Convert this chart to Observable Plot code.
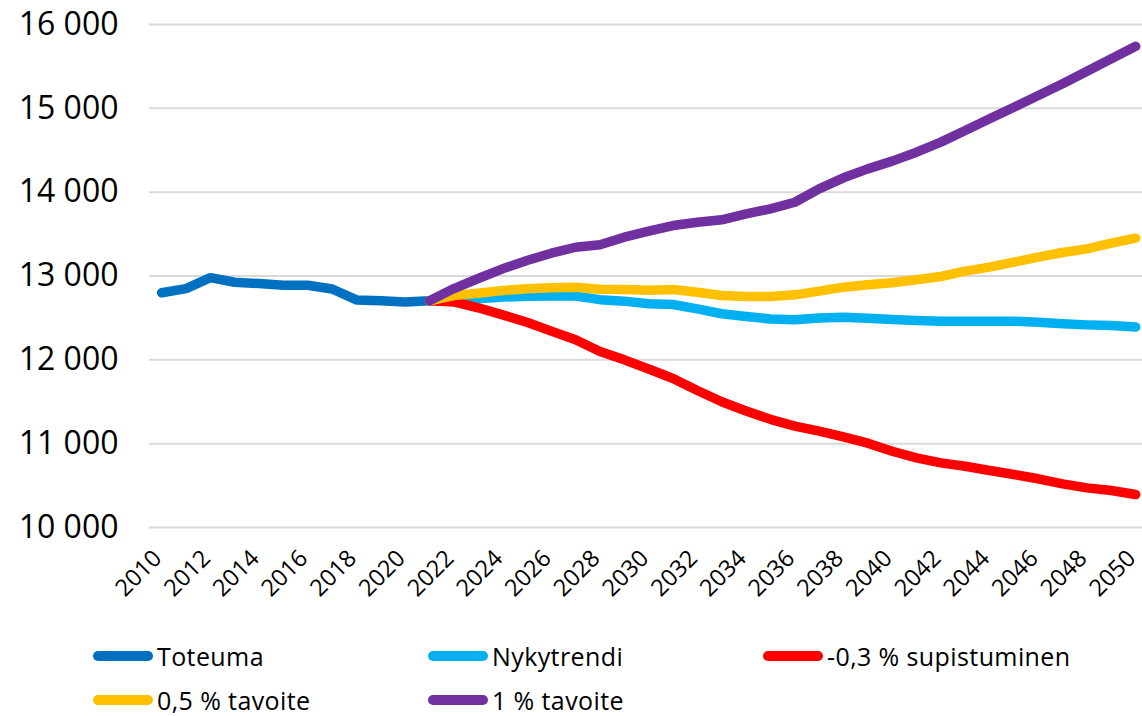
<!DOCTYPE html>
<html>
<head>
<meta charset="utf-8">
<script src="https://cdn.jsdelivr.net/npm/d3@7"></script>
<script src="https://cdn.jsdelivr.net/npm/@observablehq/plot@0.6"></script>
<style>
  html, body { margin: 0; padding: 0; background: #fff; }
  #wrap { position: relative; width: 1142px; height: 716px; font-family: "Open Sans", sans-serif; color: #000; }
  #legend { position: absolute; left: 0; top: 620px; width: 1142px; height: 96px; }
  .item { position: absolute; display: flex; align-items: center; font-size: 25px; line-height: 1.2; transform: translateY(-50%); white-space: nowrap; letter-spacing: 0.4px; }
  .sw { display: inline-block; width: 60px; height: 10px; border-radius: 5px; margin-right: 4px; }
</style>
</head>
<body>
<div id="wrap">
  <div id="chart"></div>
  <div id="legend"></div>
</div>
<script>
// ---- Data ----
const seriesNames = ["Toteuma", "Nykytrendi", "-0,3 % supistuminen", "0,5 % tavoite", "1 % tavoite"];
const seriesColors = ["#0070C0", "#00B0F0", "#FF0000", "#FFC000", "#7030A0"];

const yearsActual = [2010, 2011, 2012, 2013, 2014, 2015, 2016, 2017, 2018, 2019, 2020, 2021];
const toteuma = [12800, 12850, 12980, 12925, 12910, 12890, 12890, 12845, 12715, 12705, 12690, 12705];

const yearsProj = [2021, 2022, 2023, 2024, 2025, 2026, 2027, 2028, 2029, 2030,
                   2031, 2032, 2033, 2034, 2035, 2036, 2037, 2038, 2039, 2040,
                   2041, 2042, 2043, 2044, 2045, 2046, 2047, 2048, 2049, 2050];
const nykytrendi = [12705, 12715, 12730, 12748, 12758, 12760, 12760, 12718, 12700, 12670,
                    12660, 12608, 12550, 12517, 12487, 12477, 12500, 12508, 12497, 12481,
                    12469, 12461, 12461, 12461, 12460, 12449, 12430, 12417, 12409, 12393];
const supistuminen = [12705, 12690, 12621, 12537, 12449, 12342, 12239, 12100, 12000, 11890,
                      11777, 11634, 11500, 11390, 11290, 11210, 11150, 11080, 11006, 10910,
                      10831, 10771, 10731, 10680, 10632, 10581, 10521, 10473, 10441, 10393];
const tavoite05 = [12705, 12767, 12795, 12827, 12847, 12859, 12867, 12843, 12839, 12831,
                   12839, 12807, 12767, 12755, 12755, 12775, 12819, 12867, 12895, 12919,
                   12955, 12994, 13058, 13106, 13165, 13225, 13280, 13324, 13391, 13451];
const tavoite1 = [12705, 12850, 12970, 13086, 13185, 13272, 13343, 13372, 13463, 13535,
                  13602, 13642, 13670, 13742, 13800, 13880, 14040, 14171, 14278, 14370,
                  14477, 14597, 14736, 14875, 15014, 15153, 15293, 15443, 15591, 15741];

const xTicks = d3.range(2010, 2051, 2);
const yTicks = [10000, 11000, 12000, 13000, 14000, 15000, 16000];

// ---- Build table ----
const rows = [];
yearsActual.forEach((y, i) => rows.push({year: y, value: toteuma[i], series: seriesNames[0]}));
[nykytrendi, supistuminen, tavoite05, tavoite1].forEach((arr, k) => {
  yearsProj.forEach((y, i) => rows.push({year: y, value: arr[i], series: seriesNames[k + 1]}));
});

const fmt = d => d3.format(",")(d).replace(/,/g, "\u00a0");

const chart = Plot.plot({
  width: 1142,
  height: 620,
  marginLeft: 149,
  marginRight: 0,
  marginTop: 24,
  marginBottom: 93,
  style: { fontFamily: "Open Sans, sans-serif", color: "#000", background: "#fff", overflow: "visible" },
  x: { type: "linear", domain: [2009.5, 2050.28], label: null },
  y: { domain: [10000, 16000], label: null },
  color: { domain: seriesNames, range: seriesColors },
  marks: [
    Plot.gridY(yTicks, { stroke: "#d9d9d9", strokeWidth: 2, strokeOpacity: 1 }),
    Plot.axisY(yTicks, { tickSize: 0, tickPadding: 31, tickFormat: fmt, fontSize: 32, label: null }),
    Plot.axisX(xTicks, { tickSize: 0, tickPadding: 27, tickRotate: -45, tickFormat: d => String(d), fontSize: 23.5, dx: -4, label: null }),
    Plot.line(rows, { x: "year", y: "value", z: "series", stroke: "series", strokeWidth: 9.5, strokeLinecap: "round", strokeLinejoin: "round" })
  ]
});
document.getElementById("chart").appendChild(chart);

// ---- Legend ----
const legendPos = [
  {left: 93, top: 36}, {left: 428, top: 36}, {left: 763, top: 36},
  {left: 93, top: 80}, {left: 428, top: 80}
];
const legend = document.getElementById("legend");
seriesNames.forEach((name, i) => {
  const it = document.createElement("div");
  it.className = "item";
  it.style.left = legendPos[i].left + "px";
  it.style.top = legendPos[i].top + "px";
  const sw = document.createElement("span");
  sw.className = "sw";
  sw.style.background = seriesColors[i];
  const tx = document.createElement("span");
  tx.textContent = name;
  it.appendChild(sw);
  it.appendChild(tx);
  legend.appendChild(it);
});
</script>
</body>
</html>
